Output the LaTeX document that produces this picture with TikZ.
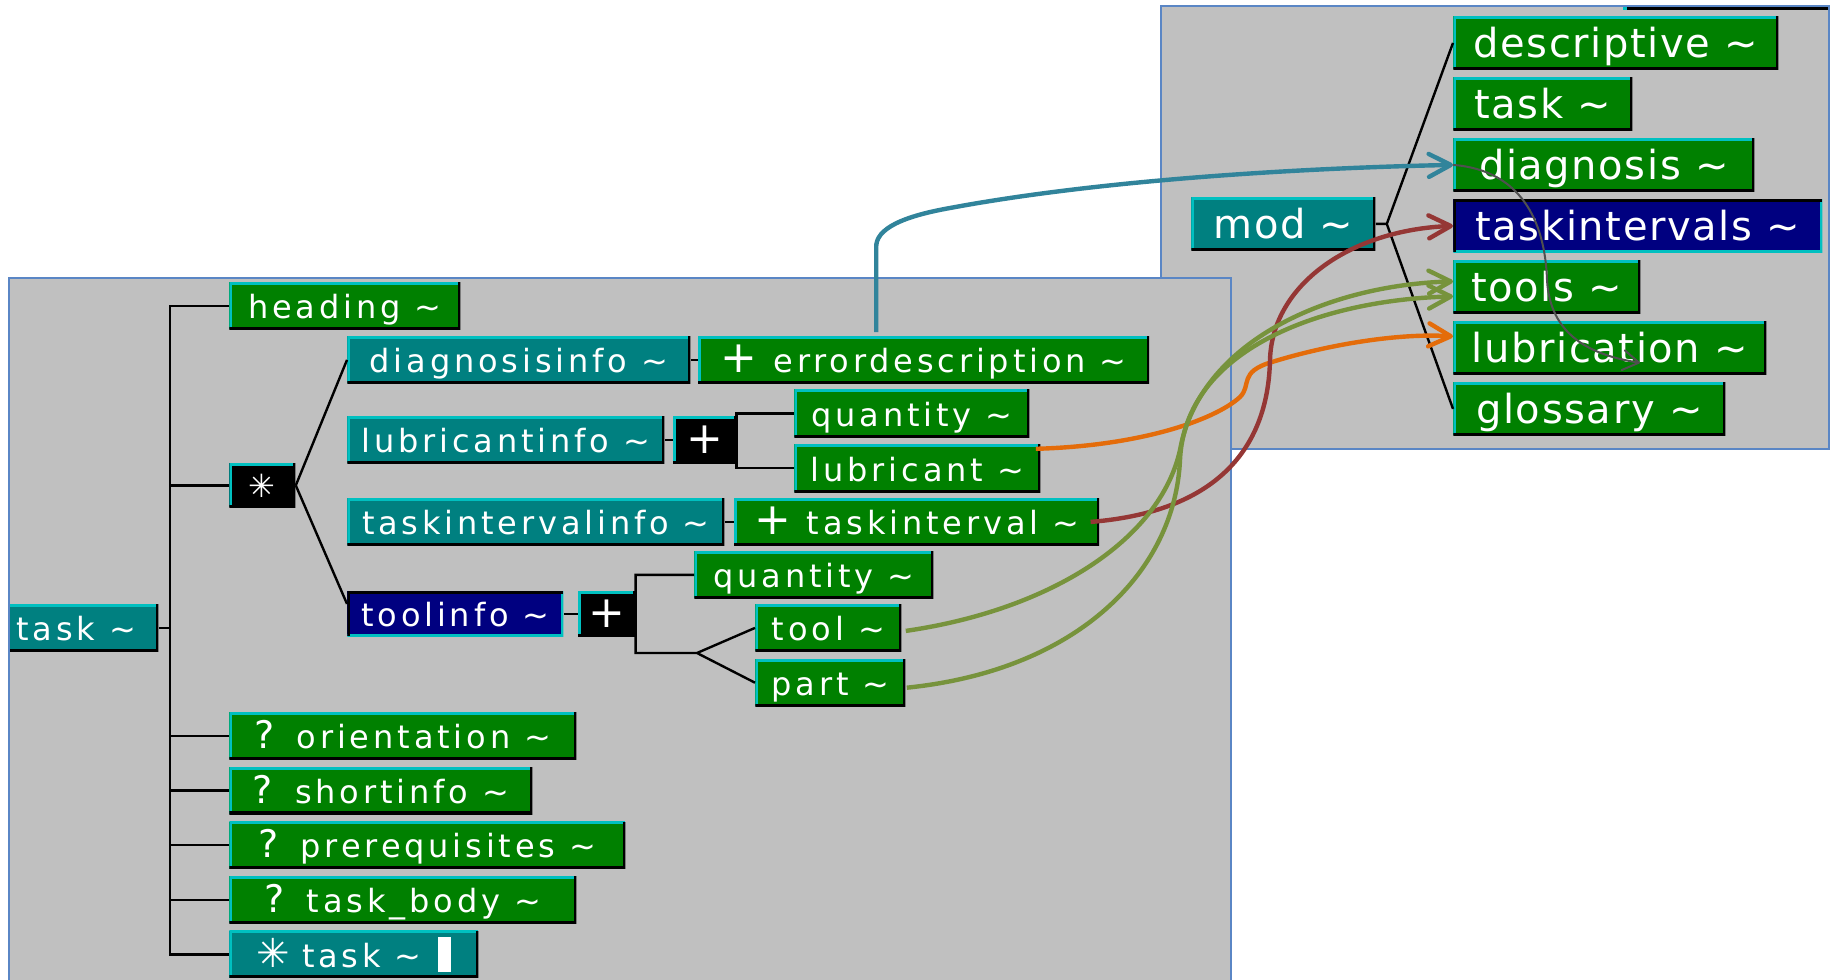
\documentclass[tikz,border=0pt]{standalone}
\usepackage{fontspec}
\setmainfont{DejaVu Sans}
\newfontfamily\elemfont[LetterSpace=12]{DejaVu Sans}
\newfontfamily\modulefont[LetterSpace=4]{DejaVu Sans}
\usetikzlibrary{arrows.meta,positioning}

\definecolor{panelfill}{HTML}{C0C0C0}
\definecolor{paneledge}{HTML}{5A86C5}
\definecolor{elemgreen}{HTML}{008000}
\definecolor{elemteal}{HTML}{008080}
\definecolor{elemnavy}{HTML}{000080}
\definecolor{bevel}{HTML}{00C0C0}
\definecolor{refblue}{HTML}{31849B}
\definecolor{reforange}{HTML}{E46C0A}
\definecolor{refred}{HTML}{953735}
\definecolor{refgreen}{HTML}{77933C}
\definecolor{refgrey}{HTML}{505050}

\newcommand{\tld}{\textasciitilde}
\newcommand{\plusmark}{{\fontsize{22pt}{22pt}\selectfont +}}
\newcommand{\optmark}{{\fontsize{19pt}{19pt}\selectfont ?}}
\newcommand{\manymark}[1]{{\fontsize{#1}{#1}\selectfont ✳}}
\newcommand{\cursorbar}{\rule[-2.5pt]{6.7pt}{17.5pt}}

\tikzset{
  raised/.style={path picture={
      \draw[bevel, line width=2.6pt] (path picture bounding box.south west)
        -- (path picture bounding box.north west) -- (path picture bounding box.north east);
      \draw[black, line width=2.6pt] (path picture bounding box.south west)
        -- (path picture bounding box.south east) -- (path picture bounding box.north east);}},
  sunken/.style={path picture={
      \draw[bevel, line width=2.6pt] (path picture bounding box.south west)
        -- (path picture bounding box.south east) -- (path picture bounding box.north east);
      \draw[black, line width=2.6pt] (path picture bounding box.south west)
        -- (path picture bounding box.north west) -- (path picture bounding box.north east);}},
  elem/.style={rectangle, inner sep=0pt, anchor=north west, text=white,
    font=\elemfont\fontsize{16pt}{18pt}\selectfont, minimum height=23.5pt,
    text height=12.8pt, text depth=0pt},
  greenelem/.style={elem, fill=elemgreen, raised},
  tealelem/.style={elem, fill=elemteal, raised},
  navyelem/.style={elem, fill=elemnavy, sunken},
  opbox/.style={rectangle, inner sep=0pt, anchor=north west, text=white, fill=black,
    raised, font=\elemfont\fontsize{16pt}{18pt}\selectfont},
  modelem/.style={elem, font=\modulefont\fontsize{20pt}{22pt}\selectfont,
    minimum height=26.5pt, text height=14.5pt},
  modgreen/.style={modelem, fill=elemgreen, raised},
  modteal/.style={modelem, fill=elemteal, raised},
  modnavy/.style={modelem, fill=elemnavy, sunken},
  panel/.style={fill=panelfill, draw=paneledge, line width=0.7pt},
  treeline/.style={line width=1.2pt, black},
  link/.style={line width=2.2pt, -{Straight Barb[length=11pt,width=11.5pt,round]}},
  thinlink/.style={line width=1pt, draw=refgrey, -{Straight Barb[length=8pt,width=10pt,round]}}
}

\begin{document}
\begin{tikzpicture}[x=0.5pt, y=-0.5pt]
  \path[use as bounding box, fill=white] (0,0) rectangle (1833,980);

  % module panel
  \filldraw[panel] (1161,6) rectangle (1829,449);
  \fill[bevel] (1623,7) rectangle (1627,9.5);
  \fill[black] (1627,7) rectangle (1828,9.5);

  \node[modteal, minimum width=92pt] (mod) at (1191,197) {mod \tld};
  \node[modgreen, minimum width=162.5pt] (descriptive) at (1453,16) {descriptive \tld};
  \node[modgreen, minimum width=89.5pt, below=3.6pt of descriptive.south west, anchor=north west] (modtask) {task \tld};
  \node[modgreen, minimum width=150.5pt, below=3.6pt of modtask.south west, anchor=north west] (diagnosis) {diagnosis \tld};
  \node[modnavy, minimum width=184.5pt, below=3.6pt of diagnosis.south west, anchor=north west] (taskintervals) {taskintervals \tld};
  \node[modgreen, minimum width=93.5pt, below=3.6pt of taskintervals.south west, anchor=north west] (tools) {tools \tld};
  \node[modgreen, minimum width=156.5pt, below=3.6pt of tools.south west, anchor=north west] (lubrication) {lubrication \tld};
  \node[modgreen, minimum width=136pt, below=3.6pt of lubrication.south west, anchor=north west] (glossary) {glossary \tld};

  \coordinate[right=5.5pt of mod.east] (modfork);
  \draw[treeline] (mod.east) -- (modfork) -- (descriptive.west) (modfork) -- (glossary.west);

  % task panel
  \filldraw[panel] (9,981) -- (9,278) -- (1231,278) -- (1231,981);

  \begin{scope}
    \clip (10,279) rectangle (1231,981);
    \node[tealelem, minimum width=82pt] (root) at (-6,604) {task \tld};
    \node[greenelem, minimum width=115.5pt] (heading) at (229,282) {heading \tld};
    \node[opbox, minimum width=33pt, minimum height=22pt] (star) at (229,463) {\manymark{16pt}};

    \node[tealelem, minimum width=171.5pt] (diaginfo) at (347,336) {diagnosisinfo \tld};
    \node[greenelem, minimum width=225.5pt, right=3.5pt of diaginfo] (errdesc) {\plusmark\hspace{8pt}errordescription \tld};

    \node[tealelem, minimum width=158.5pt] (lubinfo) at (347,416) {lubricantinfo \tld};
    \node[opbox, minimum width=31.5pt, minimum height=23.5pt, right=4pt of lubinfo] (lubplus) {\plusmark};
    \node[greenelem, minimum width=117.5pt, minimum height=24pt] (lubqty) at (794,389) {quantity \tld};
    \node[greenelem, minimum width=123pt, minimum height=24pt, below=3pt of lubqty.south west, anchor=north west] (lubricant) {lubricant \tld};

    \node[tealelem, minimum width=188.5pt] (intinfo) at (347,498) {taskintervalinfo \tld};
    \node[greenelem, minimum width=182.5pt, right=4.5pt of intinfo] (interval) {\plusmark\hspace{8pt}taskinterval \tld};

    \node[navyelem, minimum width=108pt, minimum height=22.5pt] (toolinfo) at (347,591) {toolinfo \tld};
    \node[opbox, minimum width=28.5pt, minimum height=22.5pt, right=7pt of toolinfo] (toolplus) {\plusmark};
    \node[greenelem, minimum width=119.5pt] (toolqty) at (694,551) {quantity \tld};
    \node[greenelem, minimum width=73pt] (tool) at (755,604) {tool \tld};
    \node[greenelem, minimum width=75pt, below=3.5pt of tool.south west, anchor=north west] (part) {part \tld};

    \node[greenelem, minimum width=173.5pt] (orient) at (229,712) {\optmark\hspace{11pt}orientation \tld};
    \node[greenelem, minimum width=151.5pt, below=3.4pt of orient.south west, anchor=north west] (shortinfo) {\optmark\hspace{11pt}shortinfo \tld};
    \node[greenelem, minimum width=198pt, below=3.4pt of shortinfo.south west, anchor=north west] (prereq) {\optmark\hspace{11pt}prerequisites \tld};
    \node[greenelem, minimum width=173.5pt, below=3.4pt of prereq.south west, anchor=north west] (taskbody) {\optmark\hspace{11pt}task\_body \tld};
    \node[tealelem, minimum width=124.5pt, below=3.4pt of taskbody.south west, anchor=north west] (taskstar) {\manymark{20pt}\hspace{6pt}task \tld\hspace{8pt}\cursorbar};
  \end{scope}

  % tree connectors
  \coordinate[right=5.5pt of root.east] (spine);
  \draw[treeline] (root.east) -- (spine);
  \draw[treeline] (heading.west) -| (spine) |- (taskstar.west);
  \draw[treeline] (star.west) -- (star.west -| spine)
    (orient.west) -- (orient.west -| spine)
    (shortinfo.west) -- (shortinfo.west -| spine)
    (prereq.west) -- (prereq.west -| spine)
    (taskbody.west) -- (taskbody.west -| spine);
  \draw[treeline] (star.east) -- (diaginfo.west) (star.east) -- ([yshift=5pt]toolinfo.west);
  \draw[treeline] (diaginfo) -- (errdesc) (lubinfo) -- (lubplus)
    (intinfo) -- (interval) (toolinfo) -- (toolplus);
  \draw[treeline] (lubqty.west) -| (lubplus.east |- lubricant.west) -- (lubricant.west);
  \coordinate (toolfork) at (697,653);
  \draw[treeline] (toolqty.west) -| (toolplus.east |- toolfork) -- (toolfork) -- (tool.west)
    (toolfork) -- (part.west);

  % references into the module
  \draw[link, refblue] ([xshift=-23.75pt, yshift=2pt]errdesc.north) -- ++(0,-84)
    .. controls (875,228) and (905,216) .. (950,208)
    .. controls (1100,180) and (1300,168) .. (diagnosis.west);
  \draw[link, reforange] ([xshift=-2.5pt, yshift=-2.5pt]lubricant.north east)
    .. controls (1140,446) and (1215,420) .. (1240,397)
    .. controls (1252,385) and (1238,372) .. (1272,362)
    .. controls (1330,344) and (1400,333) .. ([yshift=5.75pt]lubrication.west);
  \draw[link, refred] ([xshift=-4.5pt]interval.east)
    .. controls (1215,512) and (1268,450) .. (1270,360)
    .. controls (1272,285) and (1350,230) .. (taskintervals.west);
  \draw[link, refgreen] ([xshift=2pt, yshift=-1.5pt]tool.east)
    .. controls (1050,610) and (1160,540) .. (1180,450)
    .. controls (1200,340) and (1330,285) .. ([yshift=2.75pt]tools.west);
  \draw[link, refgreen] ([xshift=0.5pt, yshift=-2.5pt]part.east)
    .. controls (1080,670) and (1175,570) .. (1180,460)
    .. controls (1185,350) and (1320,300) .. ([yshift=-4.75pt]tools.west);
  \draw[thinlink] (diagnosis.west)
    .. controls (1520,170) and (1545,220) .. (1547,280)
    .. controls (1550,335) and (1590,355) .. ([xshift=93.5pt, yshift=6pt]lubrication.south west);
\end{tikzpicture}
\end{document}
